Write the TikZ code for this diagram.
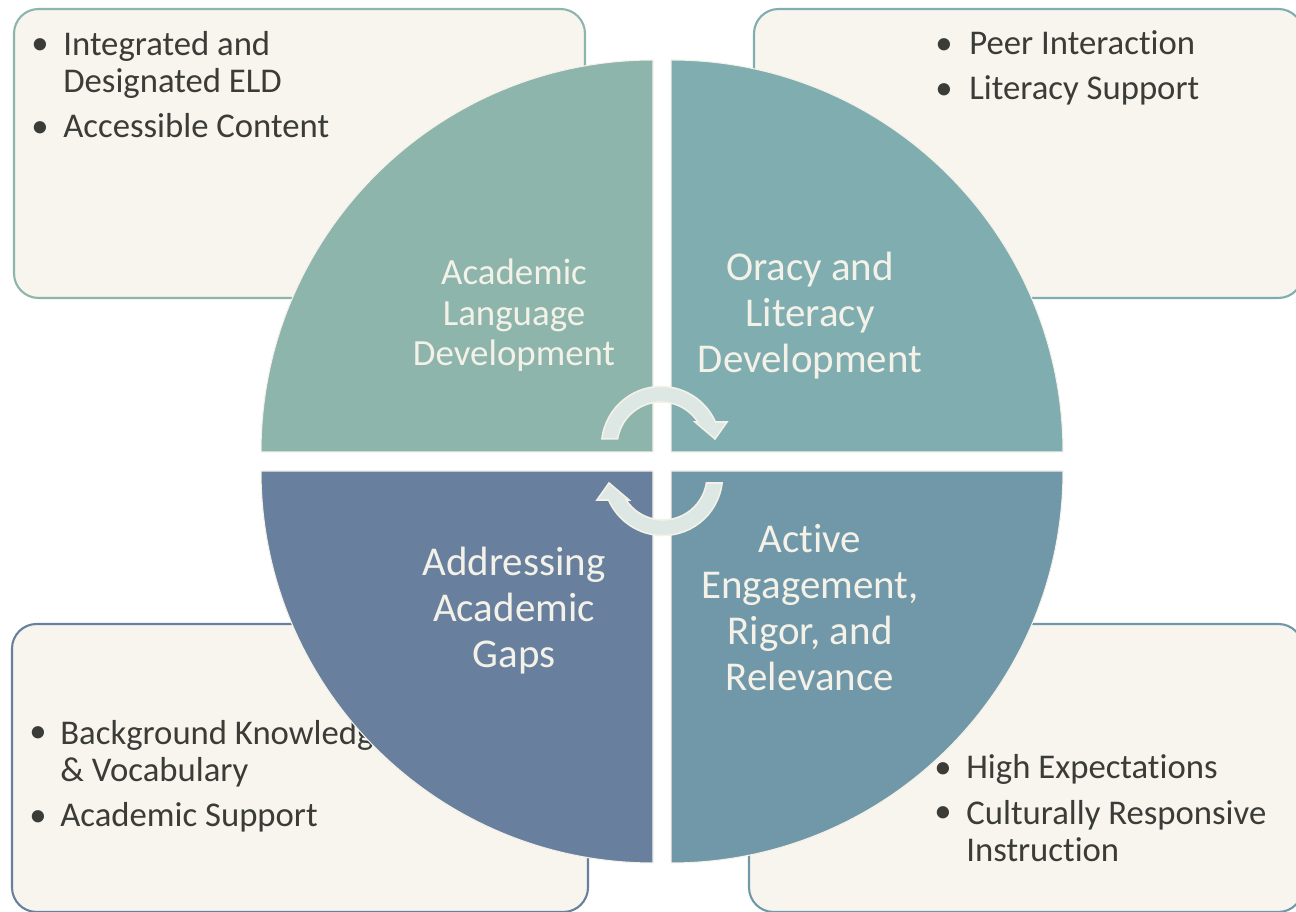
\documentclass[tikz,border=0pt]{standalone}
\usepackage{fontspec}
\setmainfont{Carlito}[Ligatures=NoCommon]
\usetikzlibrary{positioning}

\definecolor{boxfill}{HTML}{F7F5EE}
\definecolor{inkgray}{HTML}{3B3B37}
\definecolor{quadA}{HTML}{8DB5AC}
\definecolor{quadB}{HTML}{80ADAF}
\definecolor{quadC}{HTML}{68809E}
\definecolor{quadD}{HTML}{7198A8}
\definecolor{creamline}{HTML}{F4F2E8}
\definecolor{arrowfill}{HTML}{DDE7E3}

\tikzset{
  cornerbox/.style={line width=1.2pt, fill=boxfill, rounded corners=14pt},
  quad/.style={draw=creamline, line width=0.6pt},
  cyclearrow/.style={draw=creamline, fill=arrowfill, line width=0.9pt, line join=miter},
  dot/.style={anchor=base, inner sep=0pt, text=inkgray, font=\fontsize{19.75}{21.6}\selectfont},
  itemtext/.style={anchor=base west, align=left, inner sep=0pt, text=inkgray, font=\fontsize{19.75}{21.6}\selectfont},
  quadtext/.style={anchor=base, align=center, inner sep=0pt, text=creamline, font=\fontsize{23.3}{26.2}\selectfont},
  smallquadtext/.style={quadtext, font=\fontsize{21}{23.3}\selectfont}
}

\begin{document}
\begin{tikzpicture}[x=0.02cm, y=0.02cm]
\useasboundingbox (0,0) rectangle (1296,912);
\clip (0,0) rectangle (1296,912);

% Corner boxes
\draw[cornerbox, draw=quadA] (14,614) rectangle (585,903);
\draw[cornerbox, draw=quadB] (754,614) rectangle (1303,903);
\draw[cornerbox, draw=quadC] (12,0) rectangle (588,288);
\draw[cornerbox, draw=quadD] (749,0) rectangle (1303,288);

% Bullets, top left (node base = last line)
\node[dot] (tlb1) at (40,857) {\textbullet};
\node[itemtext] (tli1) at (63,819) {Integrated and\\Designated ELD};
\node[dot] (tlb2) at (40,774) {\textbullet};
\node[itemtext] (tli2) at (63,774) {Accessible Content};

% Bullets, top right
\node[dot] (trb1) at (944,857) {\textbullet};
\node[itemtext] (tri1) at (969,857) {Peer Interaction};
\node[dot] (trb2) at (944,812) {\textbullet};
\node[itemtext] (tri2) at (969,812) {Literacy Support};

% Bullets, bottom left
\node[dot] (blb1) at (38,169) {\textbullet};
\node[itemtext] (bli1) at (60,130) {Background Knowledge\\\& Vocabulary};
\node[dot] (blb2) at (38,85) {\textbullet};
\node[itemtext] (bli2) at (60,85) {Academic Support};

% Bullets, bottom right
\node[dot] (brb1) at (943,133) {\textbullet};
\node[itemtext] (bri1) at (966,133) {High Expectations};
\node[dot] (brb2) at (943,89) {\textbullet};
\node[itemtext] (bri2) at (966,50) {Culturally Responsive\\Instruction};

% Quadrants
\draw[quad, fill=quadA] (653,460) -- (261,460) arc[start angle=180, end angle=90, radius=392] -- cycle;
\draw[quad, fill=quadB] (671,460) -- (671,852) arc[start angle=90, end angle=0, radius=392] -- cycle;
\draw[quad, fill=quadC] (653,441) -- (653,49) arc[start angle=270, end angle=180, radius=392] -- cycle;
\draw[quad, fill=quadD] (671,441) -- (1063,441) arc[start angle=0, end angle=-90, radius=392] -- cycle;

% Quadrant labels
\node[smallquadtext] (ald) at (514,546) {Academic\\Language\\Development};
\node[quadtext] (old) at (810,539) {Oracy and\\Literacy\\Development};
\node[quadtext] (aag) at (514,244) {Addressing\\Academic\\Gaps};
\node[quadtext] (aer) at (810,221) {Active\\Engagement,\\Rigor, and\\Relevance};

% Circular arrows
\begin{scope}[shift={(661,466)}]
  \draw[cyclearrow] (173.2:59.5) arc[start angle=173.2, end angle=23.8, radius=59.5]
    -- (66,24) -- (54,7) -- (34,24) -- (33:44) arc[start angle=33, end angle=170.8, radius=44] -- cycle;
\end{scope}
\begin{scope}[shift={(663,436)}, rotate=180]
  \draw[cyclearrow] (173.2:59.5) arc[start angle=173.2, end angle=23.8, radius=59.5]
    -- (66,24) -- (54,7) -- (34,24) -- (33:44) arc[start angle=33, end angle=170.8, radius=44] -- cycle;
\end{scope}

\end{tikzpicture}
\end{document}
